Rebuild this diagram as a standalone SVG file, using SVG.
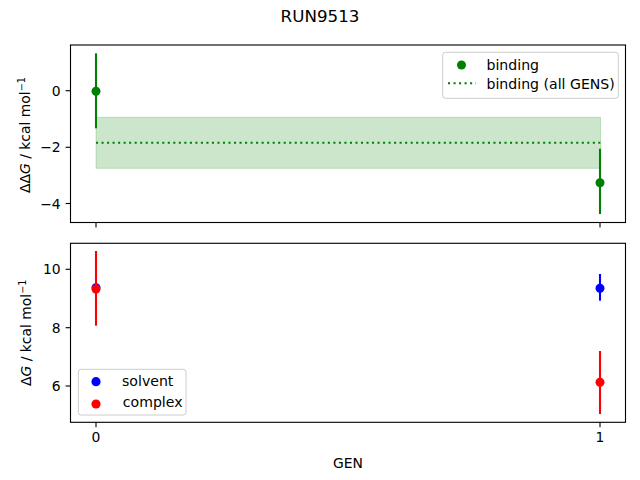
<svg xmlns="http://www.w3.org/2000/svg" width="640" height="480" viewBox="0 0 640 480">
<style>
text{font-family:"DejaVu Sans","Liberation Sans",sans-serif;fill:#000}
.t{font-size:13.9px}
.yt{font-size:13.9px;text-anchor:end}
.xt{font-size:13.9px;text-anchor:middle}
.spine{fill:none;stroke:#000;stroke-width:1.11}
.tick{stroke:#000;stroke-width:1.11}
.eg{stroke:#008000;stroke-width:2.08}
.er{stroke:#ff0000;stroke-width:2.08}
.eb{stroke:#0000ff;stroke-width:2.08}
.leg{fill:#fff;fill-opacity:0.8;stroke:#cccccc;stroke-width:1}
</style>
<rect width="640" height="480" fill="#fff"/>
<text x="320" y="22" style="font-size:16.7px;text-anchor:middle">RUN9513</text>

<g id="top-axes">
  <rect x="96" y="117.3" width="504.5" height="51" fill="#008000" fill-opacity="0.2" stroke="#008000" stroke-opacity="0.2" stroke-width="1"/>
  <line x1="96" y1="142.7" x2="600.5" y2="142.7" stroke="#008000" stroke-width="2.08" stroke-dasharray="2.08 3.44"/>
  <line class="eg" x1="96" y1="53.3" x2="96" y2="128.3"/>
  <circle cx="96" cy="91.3" r="4.5" fill="#008000"/>
  <line class="eg" x1="600" y1="148.7" x2="600" y2="214"/>
  <circle cx="600" cy="182.7" r="4.5" fill="#008000"/>
  <rect class="spine" x="70.5" y="45" width="555" height="177.5"/>
  <g>
    <line class="tick" x1="70.5" y1="90.7" x2="65.6" y2="90.7"/>
    <line class="tick" x1="70.5" y1="147.3" x2="65.6" y2="147.3"/>
    <line class="tick" x1="70.5" y1="203.5" x2="65.6" y2="203.5"/>
    <line class="tick" x1="96" y1="222.5" x2="96" y2="227.4"/>
    <line class="tick" x1="600" y1="222.5" x2="600" y2="227.4"/>
    <text class="yt" x="60.7" y="95.7">0</text>
    <text class="yt" x="60.7" y="152.3">−2</text>
    <text class="yt" x="60.7" y="208.5">−4</text>
  </g>
  <text class="t" transform="translate(29.5,135) rotate(-90)" text-anchor="middle">ΔΔ<tspan font-style="italic">G</tspan> / kcal mol<tspan dy="-5" font-size="9.7px">−1</tspan></text>
  <g id="legend-top">
    <rect class="leg" x="442.7" y="52.3" width="175.6" height="46" rx="2.8"/>
    <circle cx="461.5" cy="65" r="4.5" fill="#008000"/>
    <line x1="448" y1="83.3" x2="476" y2="83.3" stroke="#008000" stroke-width="2.08" stroke-dasharray="2.08 3.44"/>
    <text class="t" x="486.5" y="69.5" style="font-size:14.1px">binding</text>
    <text class="t" x="486.5" y="89" style="font-size:14.1px">binding (all GENS)</text>
  </g>
</g>

<g id="bottom-axes">
  <line class="eb" x1="600" y1="274" x2="600" y2="300.7"/>
  <circle cx="96" cy="287.7" r="4.5" fill="#0000ff"/>
  <circle cx="600" cy="288.3" r="4.5" fill="#0000ff"/>
  <line class="er" x1="96" y1="251" x2="96" y2="325.7"/>
  <circle cx="96" cy="289" r="4.5" fill="#ff0000"/>
  <line class="er" x1="600" y1="351" x2="600" y2="414"/>
  <circle cx="600" cy="382.3" r="4.5" fill="#ff0000"/>
  <rect class="spine" x="70.5" y="243.3" width="555" height="179"/>
  <g>
    <line class="tick" x1="70.5" y1="269.3" x2="65.6" y2="269.3"/>
    <line class="tick" x1="70.5" y1="327.7" x2="65.6" y2="327.7"/>
    <line class="tick" x1="70.5" y1="386" x2="65.6" y2="386"/>
    <line class="tick" x1="96" y1="422.3" x2="96" y2="427.2"/>
    <line class="tick" x1="600" y1="422.3" x2="600" y2="427.2"/>
    <text class="yt" x="60.7" y="274.3">10</text>
    <text class="yt" x="60.7" y="332.7">8</text>
    <text class="yt" x="60.7" y="391">6</text>
    <text class="xt" x="96" y="441.7">0</text>
    <text class="xt" x="600" y="441.7">1</text>
  </g>
  <text class="t" transform="translate(30.5,332.8) rotate(-90)" text-anchor="middle">Δ<tspan font-style="italic">G</tspan> / kcal mol<tspan dy="-5" font-size="9.7px">−1</tspan></text>
  <text class="xt" x="348" y="467.5">GEN</text>
  <g id="legend-bottom">
    <rect class="leg" x="78.3" y="369.3" width="107.7" height="45.7" rx="2.8"/>
    <circle cx="96" cy="381.7" r="4.6" fill="#0000ff"/>
    <circle cx="96" cy="404" r="4.6" fill="#ff0000"/>
    <text class="t" x="122" y="386" style="font-size:14.1px">solvent</text>
    <text class="t" x="122.8" y="406.5" style="font-size:14.1px">complex</text>
  </g>
</g>
</svg>
